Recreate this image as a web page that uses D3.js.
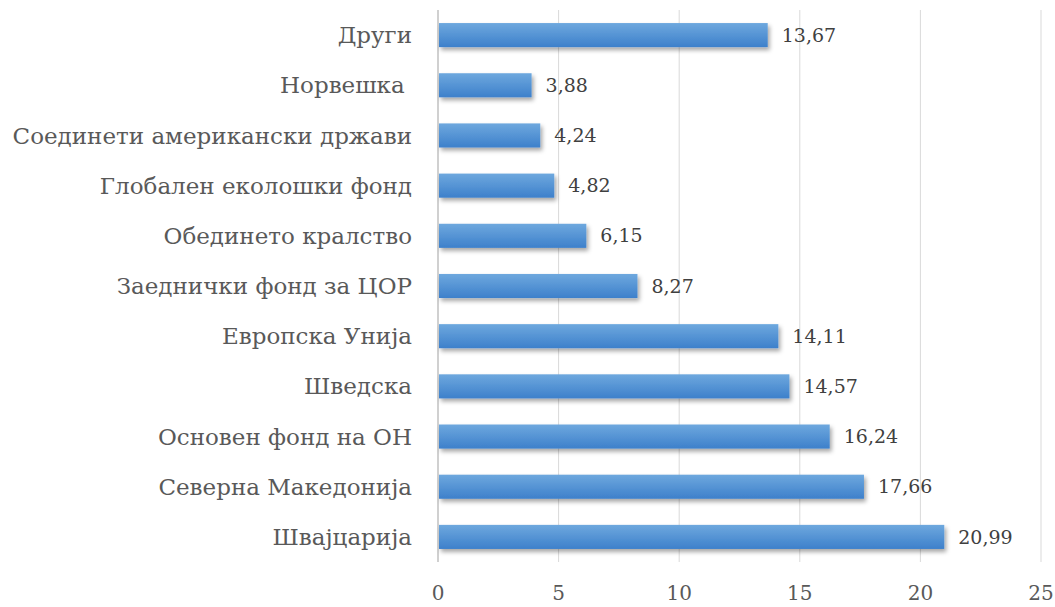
<!DOCTYPE html>
<html>
<head>
<meta charset="utf-8">
<script src="https://cdn.jsdelivr.net/npm/d3@7"></script>
<style>
  body { margin: 0; background: #fff; }
  text { font-family: "DejaVu Serif", "Liberation Serif", serif; }
</style>
</head>
<body>
<div id="chart"></div>
<script>
const categories = [
  "Други", "Норвешка ", "Соединети американски држави", "Глобален еколошки фонд",
  "Обединето кралство", "Заеднички фонд за ЦОР", "Европска Унија", "Шведска",
  "Основен фонд на ОН", "Северна Македонија", "Швајцарија"
];
const values = [13.67, 3.88, 4.24, 4.82, 6.15, 8.27, 14.11, 14.57, 16.24, 17.66, 20.99];
const xTicks = [0, 5, 10, 15, 20, 25];

const width = 1055, height = 607;
const margin = { top: 10, right: 14, bottom: 45, left: 438 };

const svg = d3.select("#chart").append("svg")
  .attr("width", width)
  .attr("height", height);

const defs = svg.append("defs");
const grad = defs.append("linearGradient")
  .attr("id", "barGrad")
  .attr("x1", 0).attr("y1", 0).attr("x2", 0).attr("y2", 1);
grad.append("stop").attr("offset", "0%").attr("stop-color", "#6ea8de");
grad.append("stop").attr("offset", "100%").attr("stop-color", "#3d80cb");

const shadow = defs.append("filter")
  .attr("id", "shadow")
  .attr("x", "-5%").attr("y", "-30%").attr("width", "115%").attr("height", "180%");
shadow.append("feDropShadow")
  .attr("dx", 2).attr("dy", 3).attr("stdDeviation", 2)
  .attr("flood-color", "#000").attr("flood-opacity", 0.35);

const x = d3.scaleLinear()
  .domain([0, 25])
  .range([margin.left, width - margin.right]);

const y = d3.scaleBand()
  .domain(categories)
  .range([margin.top, height - margin.bottom])
  .paddingInner(0.52)
  .paddingOuter(0.26);

// gridlines
svg.append("g")
  .selectAll("line")
  .data(xTicks.slice(1))
  .enter().append("line")
  .attr("x1", d => x(d)).attr("x2", d => x(d))
  .attr("y1", margin.top).attr("y2", height - margin.bottom)
  .attr("stroke", "#d9d9d9")
  .attr("stroke-width", 1);

// axis line
svg.append("line")
  .attr("x1", x(0)).attr("x2", x(0))
  .attr("y1", margin.top).attr("y2", height - margin.bottom)
  .attr("stroke", "#d0d0d0")
  .attr("stroke-width", 2);

// x tick labels
svg.append("g")
  .selectAll("text")
  .data(xTicks)
  .enter().append("text")
  .attr("x", d => x(d))
  .attr("y", 593)
  .attr("dy", "0.35em")
  .attr("text-anchor", "middle")
  .style("font-size", "20px")
  .style("fill", "#595959")
  .text(d => d);

// bars
svg.append("g")
  .selectAll("rect")
  .data(values)
  .enter().append("rect")
  .attr("x", x(0) + 1)
  .attr("y", (d, i) => y(categories[i]))
  .attr("width", d => x(d) - x(0) - 1)
  .attr("height", y.bandwidth())
  .attr("fill", "url(#barGrad)")
  .attr("filter", "url(#shadow)");

// value labels
svg.append("g")
  .selectAll("text")
  .data(values)
  .enter().append("text")
  .attr("x", d => x(d) + 14)
  .attr("y", (d, i) => y(categories[i]) + y.bandwidth() / 2)
  .attr("dy", "0.35em")
  .style("font-size", "19px")
  .style("fill", "#404040")
  .text(d => d.toFixed(2).replace(".", ","));

// category labels
svg.append("g")
  .selectAll("text")
  .data(categories)
  .enter().append("text")
  .attr("x", 412)
  .attr("y", d => y(d) + y.bandwidth() / 2)
  .attr("dy", "0.35em")
  .attr("text-anchor", "end")
  .style("font-size", "23px")
  .style("fill", "#595959")
  .style("white-space", "pre")
  .text(d => d);
</script>
</body>
</html>
